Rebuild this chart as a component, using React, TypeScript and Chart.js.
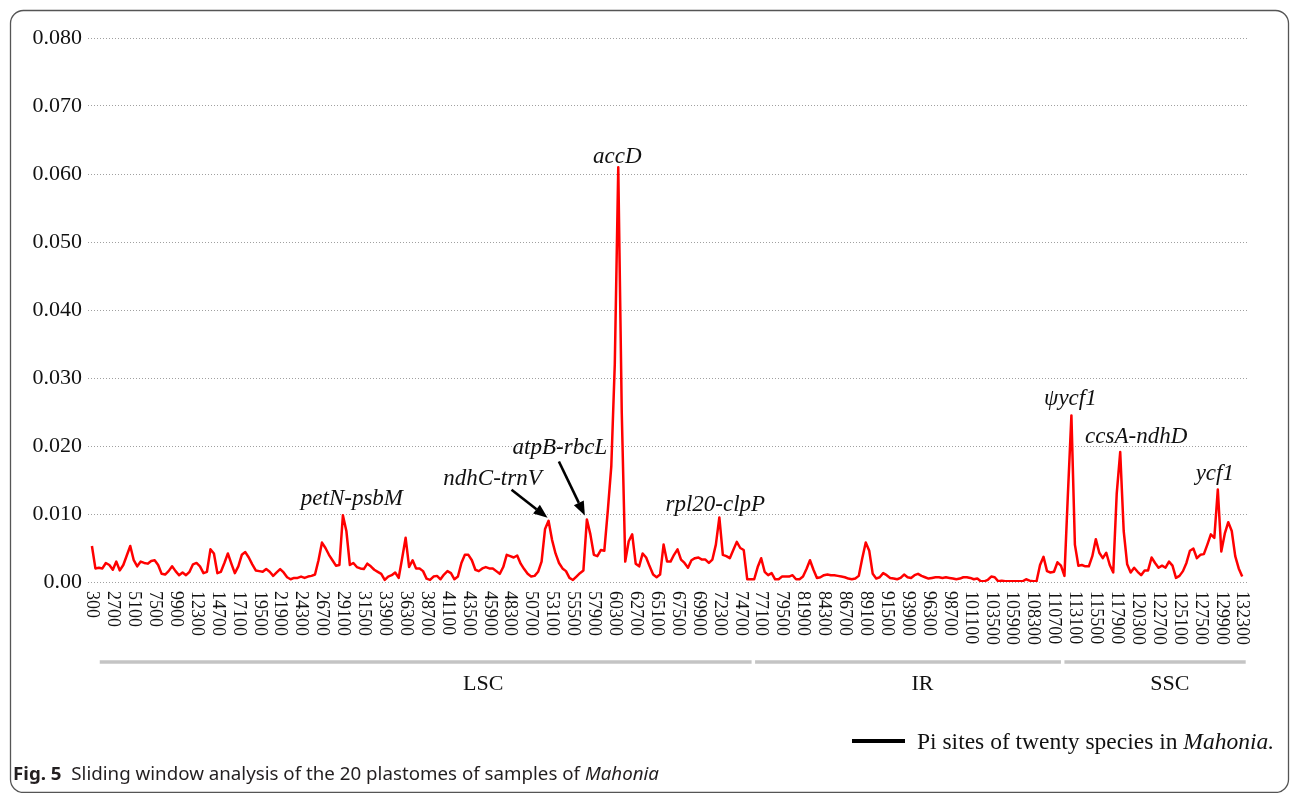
import React, { useEffect, useRef } from 'react';
import { Chart, registerables } from 'chart.js';

Chart.register(...registerables);

// Sliding window: window midpoints start at 300 bp and advance 400 bp
const windowStart = 300;
const windowStep = 400;

// Nucleotide diversity (Pi) per window, large single-copy region
const piLSC = [
  0.0053, 0.0020, 0.0021, 0.0020, 0.0028, 0.0025, 0.0018, 0.0030, 0.0017, 0.0025,
  0.0039, 0.0053, 0.0032, 0.0023, 0.0030, 0.0028, 0.0027, 0.0031, 0.0032, 0.0025,
  0.0012, 0.0011, 0.0016, 0.0023, 0.0016, 0.0010, 0.0014, 0.0010, 0.0015, 0.0026,
  0.0028, 0.0023, 0.0013, 0.0015, 0.0048, 0.0042, 0.0013, 0.0015, 0.0028, 0.0042,
  0.0027, 0.0013, 0.0023, 0.0040, 0.0044, 0.0036, 0.0026, 0.0017, 0.0016, 0.0015,
  0.0019, 0.0015, 0.0009, 0.0014, 0.0019, 0.0014, 0.0007, 0.0004, 0.0006, 0.0006,
  0.0008, 0.0006, 0.0008, 0.0009, 0.0011, 0.0032, 0.0058, 0.0050, 0.0040, 0.0032,
  0.0024, 0.0025, 0.0098, 0.0075, 0.0025, 0.0028, 0.0022, 0.0020, 0.0019, 0.0027,
  0.0023, 0.0018, 0.0015, 0.0012, 0.0003, 0.0008, 0.0010, 0.0014, 0.0006, 0.0035,
  0.0065, 0.0022, 0.0032, 0.0020, 0.0020, 0.0016, 0.0005, 0.0003, 0.0008, 0.0009,
  0.0004, 0.0011, 0.0016, 0.0013, 0.0004, 0.0008, 0.0028, 0.0040, 0.0040, 0.0032,
  0.0018, 0.0016, 0.0020, 0.0022, 0.0020, 0.0020, 0.0016, 0.0012, 0.0022, 0.0040,
  0.0038, 0.0036, 0.0039, 0.0027, 0.0019, 0.0012, 0.0008, 0.0009, 0.0015, 0.0030,
  0.0078, 0.0090, 0.0062, 0.0042, 0.0028, 0.0020, 0.0016, 0.0006, 0.0003, 0.0008,
  0.0013, 0.0017, 0.0092, 0.0070, 0.0040, 0.0038, 0.0047, 0.0046, 0.0105, 0.0170,
  0.0320, 0.0610, 0.0250, 0.0030, 0.0060, 0.0070, 0.0027, 0.0023, 0.0042, 0.0036,
  0.0023, 0.0011, 0.0007, 0.0011, 0.0055, 0.0030, 0.0030, 0.0040, 0.0048, 0.0033,
  0.0028, 0.0021, 0.0032, 0.0035, 0.0036, 0.0033, 0.0033, 0.0028, 0.0033, 0.0055,
  0.0095, 0.0040, 0.0038, 0.0035, 0.0047, 0.0059, 0.0050, 0.0047, 0.0004, 0.0004,
];

// Inverted repeat
const piIR = [
  0.0004, 0.0022, 0.0035, 0.0015, 0.0010, 0.0013, 0.0004, 0.0004, 0.0008, 0.0008,
  0.0008, 0.0010, 0.0004, 0.0004, 0.0008, 0.0019, 0.0032, 0.0018, 0.0006, 0.0007,
  0.0010, 0.0011, 0.0010, 0.0010, 0.0009, 0.0008, 0.0007, 0.0005, 0.0004, 0.0005,
  0.0009, 0.0035, 0.0058, 0.0046, 0.0012, 0.0005, 0.0007, 0.0013, 0.0010, 0.0006,
  0.0005, 0.0004, 0.0006, 0.0011, 0.0007, 0.0006, 0.0010, 0.0012, 0.0009, 0.0007,
  0.0005, 0.0006, 0.0007, 0.0007, 0.0006, 0.0007, 0.0006, 0.0005, 0.0004, 0.0005,
  0.0007, 0.0007, 0.0006, 0.0004, 0.0005, 0.0001, 0.0001, 0.0003, 0.0008, 0.0007,
  0.0001, 0.0002, 0.0001, 0.0001, 0.0001, 0.0001, 0.0001, 0.0001, 0.0004, 0.0002,
  0.0001, 0.0001, 0.0025, 0.0037, 0.0016, 0.0014, 0.0015, 0.0029, 0.0024,
];

// Small single-copy region
const piSSC = [
  0.0009, 0.0130, 0.0245, 0.0055, 0.0024, 0.0025, 0.0023, 0.0023, 0.0038, 0.0063,
  0.0043, 0.0035, 0.0043, 0.0025, 0.0014, 0.0130, 0.0191, 0.0075, 0.0026, 0.0014,
  0.0021, 0.0015, 0.0010, 0.0017, 0.0017, 0.0036, 0.0028, 0.0021, 0.0024, 0.0021,
  0.0030, 0.0024, 0.0006, 0.0009, 0.0016, 0.0028, 0.0046, 0.0049, 0.0035, 0.0040,
  0.0041, 0.0055, 0.0070, 0.0065, 0.0136, 0.0045, 0.0071, 0.0088, 0.0075, 0.0038,
  0.0020, 0.0008,
];

// Labelled positions along the alignment
const xTickLabels = [
  300, 2700, 5100, 7500, 9900, 12300, 14700, 17100, 19500, 21900, 24300, 26700,
  29100, 31500, 33900, 36300, 38700, 41100, 43500, 45900, 48300, 50700, 53100,
  55500, 57900, 60300, 62700, 65100, 67500, 69900, 72300, 74700, 77100, 79500,
  81900, 84300, 86700, 89100, 91500, 93900, 96300, 98700, 101100, 103500, 105900,
  108300, 110700, 113100, 115500, 117900, 120300, 122700, 125100, 127500, 129900,
  132300,
];

// Plastome regions (alignment coordinates)
const regionNames = ['LSC', 'IR', 'SSC'];
const regionStarts = [1200, 76400, 111900];
const regionEnds = [76000, 111500, 132700];
const regionLabelAt = [45200, 95600, 124000];

// Highly variable loci and the windows they sit on
const geneNames = ['petN-psbM', 'ndhC-trnV', 'atpB-rbcL', 'accD', 'rpl20-clpP', 'ψycf1', 'ccsA-ndhD', 'ycf1'];
const geneSites = [29100, 52700, 57100, 60700, 72300, 112700, 118300, 129500];

const piValues = [...piLSC, ...piIR, ...piSSC];
const windowPositions = piValues.map((_, i) => windowStart + i * windowStep);

const SERIF = '"Liberation Serif", "Times New Roman", serif';
const SANS = '"Noto Sans", "Open Sans", sans-serif';

// label offset (px) from each peak; optional arrow [tailDx, tailDy, tipDx, tipDy]
const labelPlacement: { dx: number; dy: number; arrow?: number[] }[] = [
  { dx: 9, dy: -10 },
  { dx: -56, dy: -36, arrow: [-37, -31, -1, -3] },
  { dx: -27, dy: -65, arrow: [-28, -58, -2, -4] },
  { dx: -1, dy: -4 },
  { dx: -4, dy: -6 },
  { dx: -1, dy: -10 },
  { dx: 16, dy: -9 },
  { dx: -3, dy: -10 },
];

function drawArrow(ctx: CanvasRenderingContext2D, x1: number, y1: number, x2: number, y2: number) {
  const ang = Math.atan2(y2 - y1, x2 - x1);
  const headLen = 14;
  const headHalf = 5.5;
  const bx = x2 - headLen * Math.cos(ang);
  const by = y2 - headLen * Math.sin(ang);
  ctx.beginPath();
  ctx.moveTo(x1, y1);
  ctx.lineTo(bx, by);
  ctx.lineWidth = 2.6;
  ctx.strokeStyle = '#000';
  ctx.stroke();
  ctx.beginPath();
  ctx.moveTo(x2, y2);
  ctx.lineTo(bx + headHalf * Math.sin(ang), by - headHalf * Math.cos(ang));
  ctx.lineTo(bx - headHalf * Math.sin(ang), by + headHalf * Math.cos(ang));
  ctx.closePath();
  ctx.fillStyle = '#000';
  ctx.fill();
}

const figureDecor = {
  id: 'figureDecor',
  afterDraw(chart: any) {
    const { ctx, chartArea, scales } = chart;
    const xs = scales.x;
    const ys = scales.y;
    ctx.save();

    // rotated position labels under the axis
    ctx.font = `18px ${SERIF}`;
    ctx.fillStyle = '#111';
    ctx.textAlign = 'left';
    ctx.textBaseline = 'middle';
    for (const t of xTickLabels) {
      const px = xs.getPixelForValue(t);
      ctx.save();
      ctx.translate(px, chartArea.bottom + 9);
      ctx.rotate(Math.PI / 2);
      ctx.fillText(String(t), 0, 0);
      ctx.restore();
    }

    // region bars
    const barY = 662;
    ctx.strokeStyle = '#c4c4c4';
    ctx.lineWidth = 3.5;
    regionNames.forEach((name, i) => {
      ctx.beginPath();
      ctx.moveTo(xs.getPixelForValue(regionStarts[i]), barY);
      ctx.lineTo(xs.getPixelForValue(regionEnds[i]), barY);
      ctx.stroke();
      ctx.font = `22px ${SERIF}`;
      ctx.fillStyle = '#111';
      ctx.textAlign = 'center';
      ctx.textBaseline = 'middle';
      ctx.fillText(name, xs.getPixelForValue(regionLabelAt[i]), 684);
    });

    // gene labels
    ctx.font = `italic 23px ${SERIF}`;
    ctx.textAlign = 'center';
    ctx.textBaseline = 'alphabetic';
    geneNames.forEach((name, i) => {
      const idx = windowPositions.indexOf(geneSites[i]);
      const px = xs.getPixelForValue(geneSites[i]);
      const py = ys.getPixelForValue(piValues[idx]);
      const p = labelPlacement[i];
      ctx.fillStyle = '#111';
      ctx.fillText(name, px + p.dx, py + p.dy);
      if (p.arrow) {
        drawArrow(ctx, px + p.arrow[0], py + p.arrow[1], px + p.arrow[2], py + p.arrow[3]);
      }
    });

    // legend
    ctx.beginPath();
    ctx.moveTo(852, 741);
    ctx.lineTo(905, 741);
    ctx.lineWidth = 4;
    ctx.strokeStyle = '#000';
    ctx.stroke();
    ctx.textAlign = 'left';
    ctx.textBaseline = 'alphabetic';
    ctx.fillStyle = '#111';
    const legA = 'Pi sites of twenty species in ';
    ctx.font = `23.5px ${SERIF}`;
    ctx.fillText(legA, 917, 749);
    const wA = ctx.measureText(legA).width;
    ctx.font = `italic 23.5px ${SERIF}`;
    ctx.fillText('Mahonia.', 917 + wA, 749);

    // caption (condensed sans)
    const capParts = [
      { t: 'Fig. 5', f: `bold 18px ${SANS}` },
      { t: '  Sliding window analysis of the 20 plastomes of samples of ', f: `18px ${SANS}` },
      { t: 'Mahonia', f: `italic 18px ${SANS}` },
    ];
    let natural = 0;
    for (const c of capParts) {
      ctx.font = c.f;
      natural += ctx.measureText(c.t).width;
    }
    const capLeft = 13;
    const capWidth = 646;
    ctx.save();
    ctx.translate(capLeft, 780);
    ctx.scale(capWidth / natural, 1);
    let cx = 0;
    ctx.fillStyle = '#231f20';
    for (const c of capParts) {
      ctx.font = c.f;
      ctx.fillText(c.t, cx, 0);
      cx += ctx.measureText(c.t).width;
    }
    ctx.restore();

    // figure frame
    ctx.beginPath();
    ctx.roundRect(10.5, 10.5, 1278, 782, 13);
    ctx.lineWidth = 1.3;
    ctx.strokeStyle = '#555';
    ctx.stroke();

    ctx.restore();
  },
};

export default function App() {
  const canvasRef = useRef<HTMLCanvasElement>(null);

  useEffect(() => {
    const canvas = canvasRef.current;
    if (!canvas) return;
    const chart = new Chart(canvas, {
      type: 'line',
      data: {
        datasets: [
          {
            label: 'Pi',
            data: windowPositions.map((x, i) => ({ x, y: piValues[i] })),
            borderColor: '#ff0000',
            borderWidth: 2.5,
            borderJoinStyle: 'round',
            pointRadius: 0,
            tension: 0,
            fill: false,
          },
        ],
      },
      options: {
        animation: false,
        responsive: false,
        devicePixelRatio: 1,
        events: [],
        layout: { padding: { left: 0, right: 48, top: 38, bottom: 211 } },
        plugins: {
          legend: { display: false },
          tooltip: { enabled: false },
        },
        scales: {
          x: {
            type: 'linear',
            min: -150,
            max: 132850,
            display: true,
            grid: { display: false },
            border: { display: false },
            ticks: { display: false },
            afterFit: (s: any) => {
              s.height = 0;
            },
          },
          y: {
            min: 0,
            max: 0.08,
            grid: { color: '#a0a0a0', lineWidth: 1, drawTicks: false },
            border: { display: false, dash: [1, 2] },
            ticks: {
              stepSize: 0.01,
              padding: 6,
              color: '#111',
              font: { family: SERIF, size: 22 },
              callback: (v: any) => (Number(v) === 0 ? '0.00' : Number(v).toFixed(3)),
            },
            afterFit: (s: any) => {
              s.width = 88;
            },
          },
        },
      },
      plugins: [figureDecor],
    });
    return () => chart.destroy();
  }, []);

  return (
    <div style={{ position: 'fixed', left: 0, top: 0, width: 1295, height: 793, background: '#fff' }}>
      <canvas ref={canvasRef} width={1295} height={793} style={{ display: 'block', width: 1295, height: 793 }} />
    </div>
  );
}
